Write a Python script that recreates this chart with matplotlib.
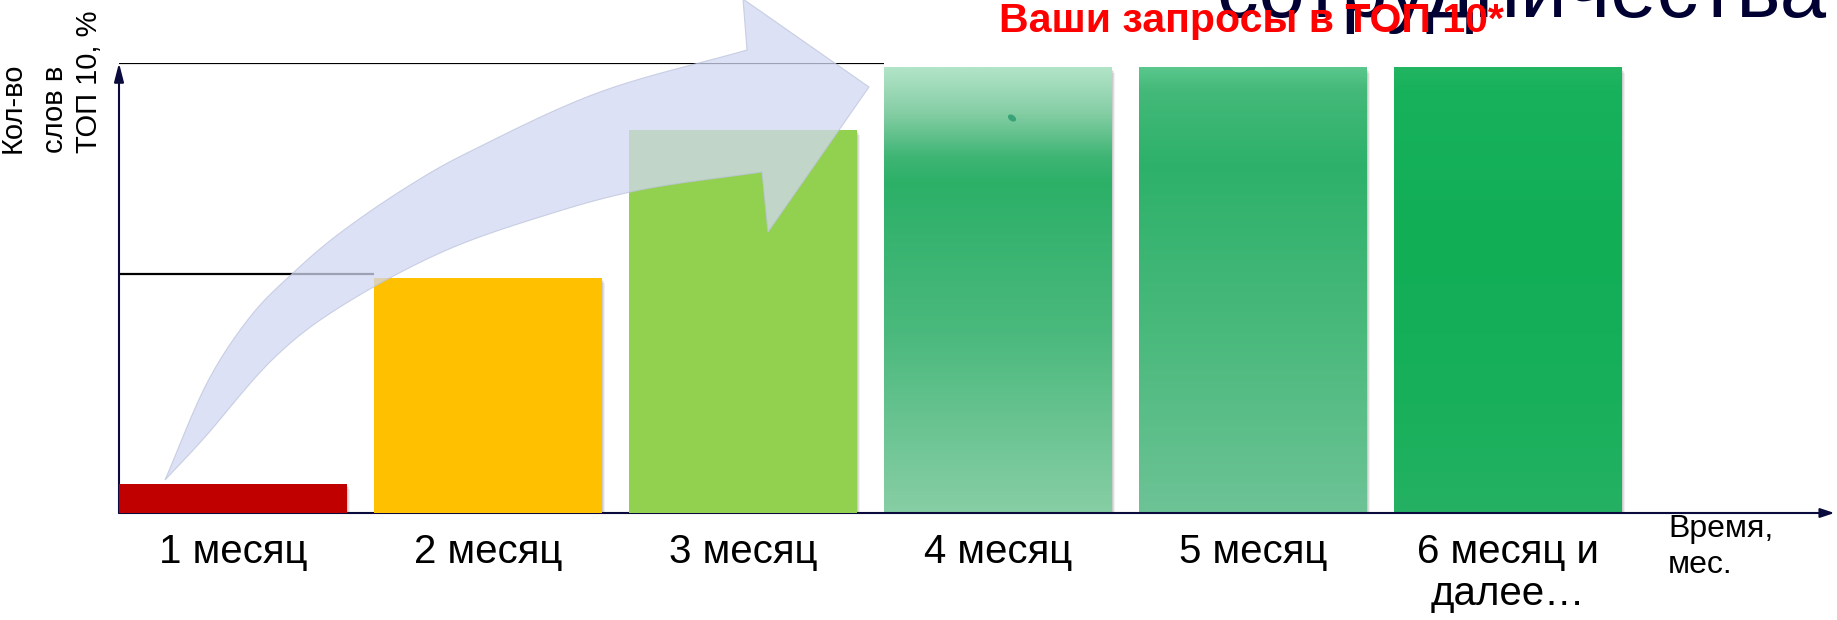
import numpy as np
import matplotlib
matplotlib.use("Agg")
import matplotlib.pyplot as plt
from matplotlib.colors import LinearSegmentedColormap
from matplotlib.patches import Polygon, Ellipse
from matplotlib.transforms import Affine2D, ScaledTranslation

# ---------------- data ----------------
months = ["1 месяц", "2 месяц", "3 месяц", "4 месяц", "5 месяц", "6 месяц и\nдалее…"]
share_top10 = [6.4, 52.2, 85.1, 98.9, 98.9, 98.9]          # % of words in TOP-10
guide_levels = [100.0, 53.1]                                 # horizontal guide lines
guide_stop_bar = [3, 1]                                      # bar where each guide stops
y_label_lines = ["Кол-во", "слов в", "ТОП 10, %"]
x_label_lines = ["Время,", "мес."]
banner = "Ваши запросы в ТОП 10*"
heading = "сотрудничества"

# ---------------- style ----------------
W, H = 1837, 620
FONT = ["Liberation Sans", "DejaVu Sans"]
plt.rcParams["font.family"] = FONT
navy = "#0A0A3C"
flat_colors = ["#C00000", "#FFC000", "#92D050"]
grad_stops = [
    [(0.0, "#B2E4C8"), (0.10, "#86CEA5"), (0.20, "#3FB574"), (0.26, "#2CB068"),
     (0.60, "#4BB97D"), (1.0, "#87CEA5")],
    [(0.0, "#5AC78C"), (0.05, "#44B979"), (0.22, "#2DB16A"), (0.60, "#4AB97C"),
     (1.0, "#6DC396")],
    [(0.0, "#22B562"), (0.05, "#18B15C"), (0.40, "#11AE56"), (0.80, "#1AB05C"),
     (1.0, "#25B163")],
]

fig = plt.figure(figsize=(W / 100, H / 100), dpi=100)
fig.patch.set_facecolor("white")
ax = fig.add_axes([119 / W, 107 / H, (W - 119) / W, 450 / H])
ax.set_axis_off()

x = np.arange(len(months))
bw = 0.894
x0, x1 = -bw / 2, 6.29

# soft shadows
for dx, dy, a in [(3, -5, 0.06), (2, -3, 0.08), (1, -2, 0.08)]:
    off = ScaledTranslation(dx / 100, dy / 100, fig.dpi_scale_trans)
    sh = ax.bar(x, share_top10, width=bw, color="black", alpha=a, zorder=2.5, linewidth=0)
    for p in sh:
        p.set_transform(ax.transData + off)

# flat bars (first three)
ax.bar(x[:3], share_top10[:3], width=bw, color=flat_colors, zorder=4, linewidth=0)

# gradient bars (last three)
grad = np.linspace(0, 1, 256).reshape(-1, 1)
for k, i in enumerate(range(3, 6)):
    cmap = LinearSegmentedColormap.from_list(f"g{k}", grad_stops[k])
    ax.imshow(grad, cmap=cmap, aspect="auto", origin="upper",
              extent=(x[i] - bw / 2, x[i] + bw / 2, 0, share_top10[i]),
              zorder=3, interpolation="bilinear")

# guide lines
for lvl, stop in zip(guide_levels, guide_stop_bar):
    ax.hlines(lvl, x0, x[stop] - bw / 2, color="black", lw=1.6, zorder=2)

# axes arrows
ax.annotate("", xy=(0.9985, 0), xytext=(0, 0), xycoords="axes fraction",
            arrowprops=dict(arrowstyle="-|>,head_length=0.6,head_width=0.2",
                            color=navy, lw=1.5, shrinkA=0, shrinkB=0,
                            mutation_scale=14), zorder=3.5)
ax.annotate("", xy=(0, 1.0), xytext=(0, 0), xycoords="axes fraction",
            arrowprops=dict(arrowstyle="-|>,head_length=0.7,head_width=0.18",
                            color=navy, lw=1.5, shrinkA=0, shrinkB=0,
                            mutation_scale=16), zorder=3.5)

ax.set_xlim(x0, x1)
ax.set_ylim(0, 100)

# month labels (one text per line)
px_per_unit = 450 / 100.0
for xi, lab in zip(x, months):
    for j, line in enumerate(lab.split("\n")):
        base_px = 563 + 42 * j
        ax.text(xi, (513 - base_px) / px_per_unit, line, ha="center", va="baseline",
                fontsize=29, color="black", zorder=6)

# decorative curved arrow (figure pixel coords, y from top)
pix = Affine2D().scale(1 / W, -1 / H).translate(0, 1) + fig.transFigure


def catmull(pts, n=30):
    pts = np.asarray(pts, float)
    P = np.vstack([2 * pts[0] - pts[1], pts, 2 * pts[-1] - pts[-2]])
    out = []
    t = np.linspace(0, 1, n, endpoint=False)[:, None]
    for i in range(1, len(P) - 2):
        p0, p1, p2, p3 = P[i - 1], P[i], P[i + 1], P[i + 2]
        out.append(0.5 * (2 * p1 + (-p0 + p2) * t + (2 * p0 - 5 * p1 + 4 * p2 - p3) * t ** 2
                          + (-p0 + 3 * p1 - 3 * p2 + p3) * t ** 3))
    out.append(pts[-1:])
    return np.vstack(out)


outer = catmull([(165, 480), (207, 383), (250, 317), (293, 273), (340, 233),
                 (407, 187), (473, 150), (600, 92), (747, 50)])
inner = catmull([(165, 480), (205, 437), (273, 359), (340, 307), (440, 253),
                 (540, 217), (640, 190), (762, 172)])
head = np.array([(743, -1), (869, 87), (768, 232)])
poly = np.vstack([outer, head, inner[::-1]])
fig.patches.append(Polygon(poly, closed=True, transform=pix, facecolor="#D2D8F2",
                           edgecolor="#BCC3DC", lw=0.8, alpha=0.75, zorder=5))

# small blemish on bar 4
fig.patches.append(Ellipse((1012, 118), 9, 6, angle=35, transform=pix,
                           facecolor="#2E9C72", edgecolor="none", alpha=0.85, zorder=4))

# axis titles
for line, bx in zip(y_label_lines, [21, 63, 97]):
    fig.text(bx / W, 1 - 153 / H, line, rotation=90, rotation_mode="anchor",
             ha="left", va="baseline", fontsize=21, color="black")
for j, line in enumerate(x_label_lines):
    fig.text(1668 / W, 1 - (537 + 36 * j) / H, line, ha="left", va="baseline",
             fontsize=23, color="black")

# heading (clipped by top edge) and red banner
fig.text(1217 / W, 1 - 17 / H, heading, ha="left", va="baseline", fontsize=60,
         color="#000033", zorder=7)
fig.text(999 / W, 1 - 32 / H, banner, ha="left", va="baseline", fontsize=29.5,
         fontweight="bold", color="#FF0000", zorder=8)

fig.savefig("out.png", dpi=100, facecolor="white")
